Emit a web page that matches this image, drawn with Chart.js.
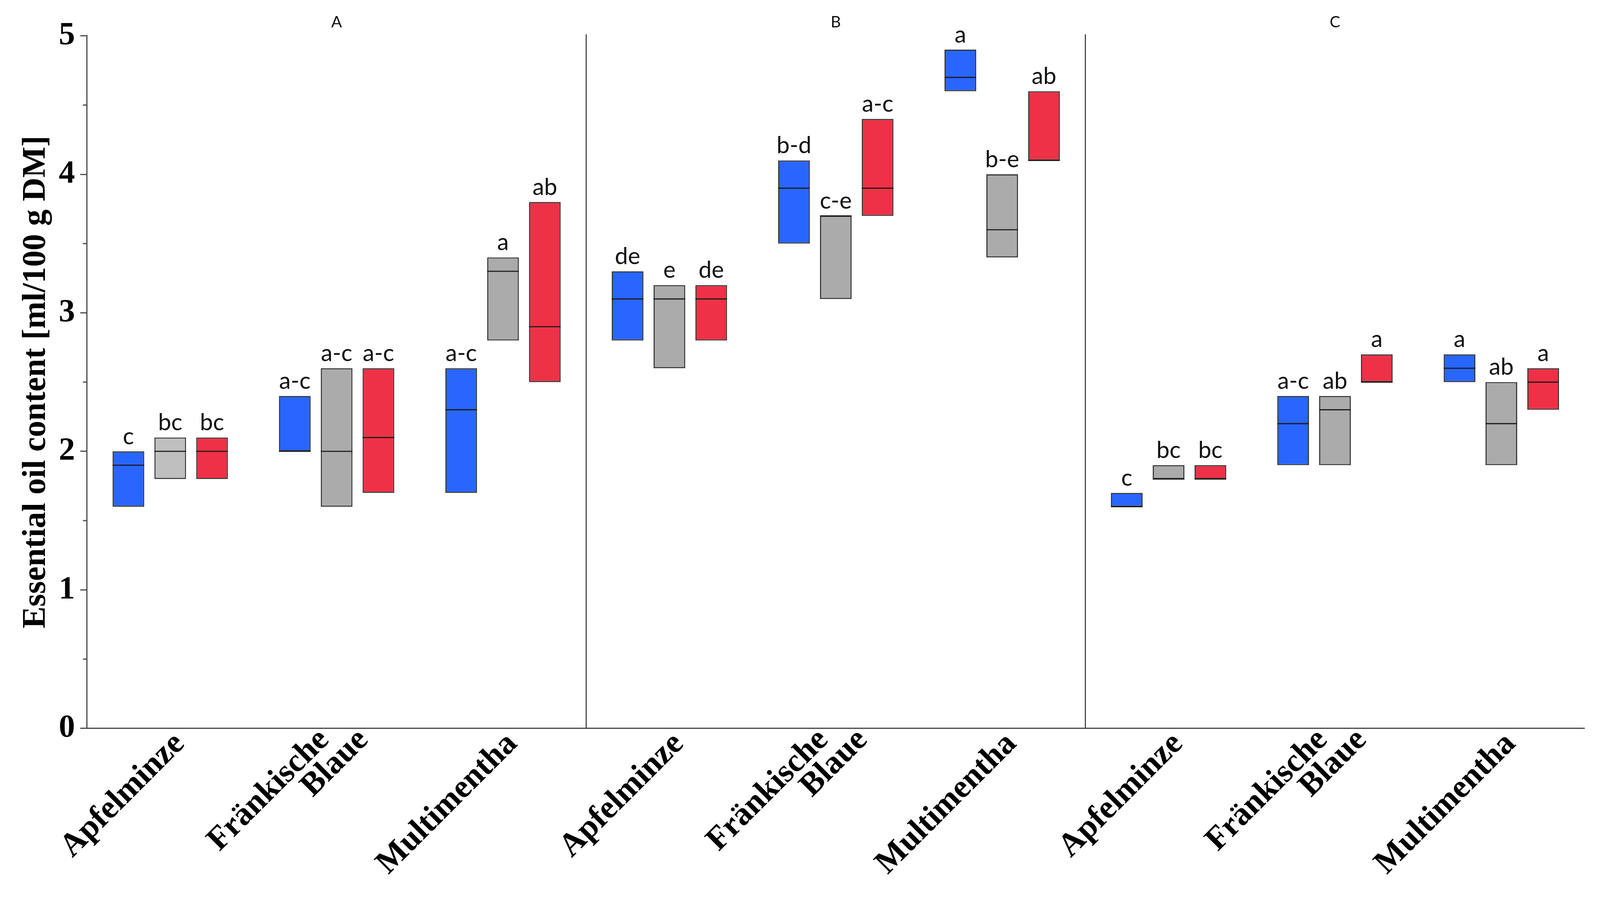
<!DOCTYPE html>
<html>
<head>
<meta charset="utf-8">
<script src="https://cdn.jsdelivr.net/npm/chart.js"></script>
<style>
  html, body { margin: 0; padding: 0; background: #fff; overflow: hidden; }
  #wrap { width: 100vw; }
</style>
</head>
<body>
<div id="wrap"><canvas id="oilChart"></canvas></div>
<script>
  // three panels, each with the same three varieties
  const panels = ['A', 'B', 'C'];
  const varieties = ['Apfelminze', ['Fränkische', 'Blaue'], 'Multimentha'];
  const labels = [...varieties, ...varieties, ...varieties];

  // [min, max] of each box, order: A (3 varieties), B, C
  const blueRange = [[1.6, 2.0], [2.0, 2.4], [1.7, 2.6], [2.8, 3.3], [3.5, 4.1], [4.6, 4.9], [1.6, 1.7], [1.9, 2.4], [2.5, 2.7]];
  const greyRange = [[1.8, 2.1], [1.6, 2.6], [2.8, 3.4], [2.6, 3.2], [3.1, 3.7], [3.4, 4.0], [1.8, 1.9], [1.9, 2.4], [1.9, 2.5]];
  const redRange  = [[1.8, 2.1], [1.7, 2.6], [2.5, 3.8], [2.8, 3.2], [3.7, 4.4], [4.1, 4.6], [1.8, 1.9], [2.5, 2.7], [2.3, 2.6]];

  const blueMedian = [1.9, 2.0, 2.3, 3.1, 3.9, 4.7, 1.6, 2.2, 2.6];
  const greyMedian = [2.0, 2.0, 3.3, 3.1, 3.7, 3.6, 1.8, 2.3, 2.2];
  const redMedian  = [2.0, 2.1, 2.9, 3.1, 3.9, 4.1, 1.8, 2.5, 2.5];

  const blueLetters = ['c', 'a-c', 'a-c', 'de', 'b-d', 'a', 'c', 'a-c', 'a'];
  const greyLetters = ['bc', 'a-c', 'a', 'e', 'c-e', 'b-e', 'bc', 'ab', 'ab'];
  const redLetters  = ['bc', 'a-c', 'ab', 'de', 'a-c', 'ab', 'bc', 'a', 'a'];

  const serif = 'Liberation Serif';
  const sans = 'Lato';
  // everything below was measured on a 4246 x 2349 picture
  const k = window.innerWidth / 4246;
  const px = v => v * k;
  document.getElementById('wrap').style.height = px(2349) + 'px';

  // medians, letters, panel separators, panel names, minor ticks, slanted category names
  const extras = {
    id: 'extras',
    afterDatasetsDraw(chart) {
      const { ctx } = chart;
      const y = chart.scales.y;
      chart.data.datasets.forEach((ds, di) => {
        const meta = chart.getDatasetMeta(di);
        meta.data.forEach((bar, i) => {
          const half = bar.width / 2;
          const my = y.getPixelForValue(ds.median[i]);
          ctx.save();
          ctx.strokeStyle = '#1a1a1a';
          ctx.lineWidth = px(3);
          ctx.beginPath();
          ctx.moveTo(bar.x - half, my);
          ctx.lineTo(bar.x + half, my);
          ctx.stroke();
          ctx.fillStyle = '#111';
          ctx.font = px(62) + 'px ' + sans;
          ctx.textAlign = 'center';
          ctx.textBaseline = 'alphabetic';
          ctx.fillText(ds.letters[i], bar.x, Math.min(bar.y, bar.base) - px(19));
          ctx.restore();
        });
      });
    },
    afterDraw(chart) {
      const { ctx, chartArea } = chart;
      const x = chart.scales.x;
      const y = chart.scales.y;
      ctx.save();
      ctx.strokeStyle = '#444';
      ctx.lineWidth = px(3);
      for (let p = 1; p < panels.length; p++) {
        const sx = (x.getPixelForValue(p * 3 - 1) + x.getPixelForValue(p * 3)) / 2;
        ctx.beginPath();
        ctx.moveTo(sx, chartArea.top - px(4));
        ctx.lineTo(sx, chartArea.bottom);
        ctx.stroke();
      }
      ctx.fillStyle = '#111';
      ctx.font = px(42) + 'px ' + sans;
      ctx.textAlign = 'center';
      ctx.textBaseline = 'middle';
      panels.forEach((name, p) => {
        ctx.fillText(name, x.getPixelForValue(p * 3 + 1), chartArea.top - px(36));
      });
      // short minor ticks on the y axis
      y.ticks.forEach((t, i) => {
        if (Number.isInteger(t.value)) return;
        const py = y.getPixelForTick(i);
        ctx.beginPath();
        ctx.moveTo(y.right - px(11), py);
        ctx.lineTo(y.right, py);
        ctx.stroke();
      });
      // category names, 45 deg, second line pushed to the right like the original
      ctx.fillStyle = '#000';
      ctx.font = 'bold ' + px(87) + 'px ' + serif;
      ctx.textAlign = 'right';
      ctx.textBaseline = 'middle';
      chart.data.labels.forEach((lab, i) => {
        const lines = Array.isArray(lab) ? lab : [lab];
        const n = lines.length;
        const tx = x.getPixelForValue(i);
        lines.forEach((line, j) => {
          ctx.save();
          ctx.translate(tx + px(25 - 58 * (n - 1) + 104 * j), chartArea.bottom + px(28 - 10 * (n - 1)));
          ctx.rotate(-Math.PI / 4);
          ctx.fillText(line, 0, 0);
          ctx.restore();
        });
      });
      ctx.restore();
    }
  };

  const box = {
    borderColor: '#333',
    borderWidth: px(3),
    borderSkipped: false,
    categoryPercentage: 0.754,
    barPercentage: 0.757
  };

  new Chart(document.getElementById('oilChart'), {
    type: 'bar',
    data: {
      labels: labels,
      datasets: [
        { ...box, label: 'blue', data: blueRange, median: blueMedian, letters: blueLetters, backgroundColor: '#2966FF' },
        { ...box, label: 'grey', data: greyRange, median: greyMedian, letters: greyLetters,
          backgroundColor: c => c.dataIndex === 0 ? '#BFBFBF' : '#ABABAB' },
        { ...box, label: 'red', data: redRange, median: redMedian, letters: redLetters, backgroundColor: '#EE3146' }
      ]
    },
    options: {
      responsive: true,
      maintainAspectRatio: false,
      animation: false,
      layout: { padding: { left: px(45), right: px(41), top: px(95), bottom: 0 } },
      plugins: {
        legend: { display: false },
        tooltip: { enabled: false },
        title: { display: false }
      },
      scales: {
        x: {
          grid: { display: false, drawTicks: false },
          border: { display: true, color: '#444', width: px(3) },
          ticks: { display: false },
          afterFit: s => { s.height = px(417); }
        },
        y: {
          min: 0,
          max: 5,
          ticks: {
            stepSize: 0.5, padding: px(14), color: '#000',
            font: { family: serif, size: px(86), weight: 'bold' },
            callback: v => Number.isInteger(v) ? v : ''
          },
          grid: {
            drawOnChartArea: false, drawTicks: true, tickLength: px(18), tickWidth: px(3),
            tickColor: c => Number.isInteger(c.tick.value) ? '#444' : 'rgba(0,0,0,0)'
          },
          border: { display: true, color: '#444', width: px(3) },
          title: {
            display: true, text: 'Essential oil content [ml/100 g DM]', color: '#000', padding: 0,
            font: { family: serif, size: px(87), weight: 'bold' }
          },
          afterFit: s => { s.width = px(186); }
        }
      }
    },
    plugins: [extras]
  });
</script>
</body>
</html>
